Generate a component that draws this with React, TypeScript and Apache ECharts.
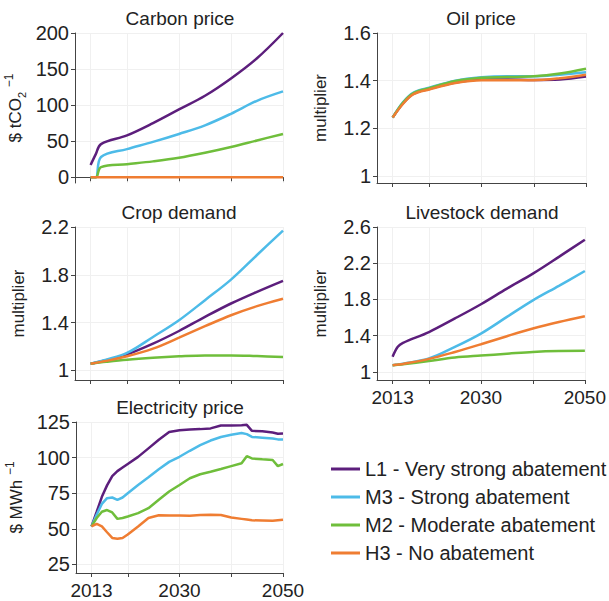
import React, { useEffect, useRef } from "react";
import * as echarts from "echarts";

const SCENARIOS = [
  "L1 - Very strong abatement",
  "M3 - Strong abatement",
  "M2 - Moderate abatement",
  "H3 - No abatement",
];
const COLORS = ["#5c1e7c", "#4dbbe8", "#6fbe3b", "#ef7d32"];

// Carbon price ($ tCO2^-1)
const carbonYears = [2013, 2014, 2015, 2020, 2025, 2030, 2035, 2040, 2045, 2050];
const carbonL1 = [17, 32, 46, 58, 75, 94, 113, 137, 165, 200];
const carbonM3 = [0, 0, 28, 39, 49, 60, 72, 88, 106, 119];
const carbonM2 = [0, 0, 14, 18, 22, 27, 34, 42, 51, 60];
const carbonH3 = [0, 0, 0, 0, 0, 0, 0, 0, 0, 0];

// Oil price (multiplier)
const oilYears = [2013, 2015, 2017, 2020, 2025, 2030, 2035, 2040, 2045, 2050];
const oilL1 = [1.245, 1.305, 1.345, 1.365, 1.392, 1.405, 1.405, 1.403, 1.405, 1.417];
const oilM3 = [1.245, 1.31, 1.35, 1.37, 1.4, 1.414, 1.418, 1.418, 1.425, 1.435];
const oilM2 = [1.245, 1.308, 1.348, 1.368, 1.398, 1.412, 1.415, 1.418, 1.43, 1.45];
const oilH3 = [1.245, 1.303, 1.343, 1.363, 1.39, 1.402, 1.402, 1.402, 1.41, 1.425];

// Crop demand (multiplier)
const cropYears = [2013, 2016, 2020, 2025, 2030, 2035, 2040, 2045, 2050];
const cropL1 = [1.056, 1.085, 1.134, 1.224, 1.33, 1.448, 1.56, 1.658, 1.75];
const cropM3 = [1.056, 1.09, 1.146, 1.28, 1.42, 1.588, 1.76, 1.966, 2.17];
const cropM2 = [1.056, 1.072, 1.09, 1.106, 1.118, 1.126, 1.126, 1.12, 1.112];
const cropH3 = [1.056, 1.08, 1.118, 1.182, 1.274, 1.37, 1.462, 1.538, 1.6];

// Livestock demand (multiplier)
const liveYears = [2013, 2014, 2015, 2020, 2025, 2030, 2035, 2040, 2045, 2050];
const liveL1 = [1.166, 1.276, 1.32, 1.44, 1.59, 1.747, 1.92, 2.085, 2.27, 2.46];
const liveM3 = [1.074, 1.08, 1.09, 1.147, 1.276, 1.423, 1.607, 1.79, 1.95, 2.114];
const liveM2 = [1.074, 1.078, 1.083, 1.12, 1.158, 1.18, 1.2, 1.22, 1.23, 1.232];
const liveH3 = [1.074, 1.08, 1.087, 1.143, 1.22, 1.305, 1.394, 1.478, 1.55, 1.614];

// Electricity price ($ MWh^-1)
const elecYears = [2013, 2014, 2015, 2016, 2017, 2018, 2019, 2020, 2022, 2024, 2026, 2028, 2030, 2032, 2034, 2036, 2038, 2040, 2042, 2043, 2044, 2046, 2048, 2049, 2050];
const elecL1 = [51.7, 62, 72.5, 80.5, 87, 90.5, 93, 95.5, 100.5, 106.5, 112.5, 118, 119.2, 119.8, 120, 120.5, 122.5, 122.5, 122.8, 123, 118.8, 118.5, 117.6, 116.8, 117];
const elecM3 = [51.7, 60, 67.5, 71.5, 72, 70.4, 72, 75, 80.8, 86.2, 91.8, 97, 100.6, 104.8, 108.7, 112, 114.5, 116, 117.3, 116.5, 114.5, 114, 113.4, 112.8, 112.8];
const elecM2 = [51.7, 57.6, 62, 63.2, 61.5, 57, 57.6, 58.7, 61, 64.5, 70.4, 76.2, 80.8, 85.5, 88.3, 90.1, 92, 94, 96, 101, 99.4, 98.8, 98.3, 94, 95.5];
const elecH3 = [51.7, 53.5, 51.7, 47.6, 43.6, 43, 43.6, 46, 51.7, 57.6, 59.5, 59.4, 59.4, 59.2, 59.7, 59.9, 59.7, 58, 57, 56.5, 56, 55.8, 55.6, 56, 56.4];

const xTickValues = [2013, 2020, 2030, 2040, 2050];
const xLabelValues = [2013, 2030, 2050];

const carbonTicks = [0, 50, 100, 150, 200];
const oilTicks = [1, 1.2, 1.4, 1.6];
const cropTicks = [1, 1.4, 1.8, 2.2];
const liveTicks = [1, 1.4, 1.8, 2.2, 2.6];
const elecTicks = [25, 50, 75, 100, 125];

const FONT = "'Liberation Sans', Arial, sans-serif";
const TXT = "#222";
const AXIS = "#444";

const panels = [
  { title: "Carbon price", years: carbonYears, data: [carbonL1, carbonM3, carbonM2, carbonH3], ticks: carbonTicks, min: -8, max: 200, grid: { left: 75, top: 33, width: 208, height: 150 }, showX: false, name: "{a|$ tCO}{s|2}{a| }{p|−1}", smooth: 0.35 },
  { title: "Oil price", years: oilYears, data: [oilL1, oilM3, oilM2, oilH3], ticks: oilTicks, min: 0.97, max: 1.6, grid: { left: 377, top: 33, width: 209, height: 150 }, showX: false, name: "multiplier", smooth: 0.35 },
  { title: "Crop demand", years: cropYears, data: [cropL1, cropM3, cropM2, cropH3], ticks: cropTicks, min: 0.92, max: 2.2, grid: { left: 75, top: 227, width: 208, height: 153 }, showX: false, name: "multiplier", smooth: 0.35 },
  { title: "Livestock demand", years: liveYears, data: [liveL1, liveM3, liveM2, liveH3], ticks: liveTicks, min: 0.91, max: 2.6, grid: { left: 377, top: 227, width: 209, height: 153 }, showX: true, name: "multiplier", smooth: 0.35 },
  { title: "Electricity price", years: elecYears, data: [elecL1, elecM3, elecM2, elecH3], ticks: elecTicks, min: 19, max: 125, grid: { left: 76, top: 422, width: 207, height: 151 }, showX: true, name: "{a|$ MWh }{p|−1}", smooth: false },
];

const titlePos = [
  { x: 180, y: 18 },
  { x: 481, y: 18 },
  { x: 179, y: 212 },
  { x: 482, y: 212 },
  { x: 180, y: 407 },
];

export default function App() {
  const ref = useRef<HTMLDivElement>(null);
  useEffect(() => {
    if (!ref.current) return;
    const chart = echarts.init(ref.current, undefined, { renderer: "svg" });
    const grids = panels.map((p) => ({ ...p.grid, containLabel: false }));
    const xAxes = panels.map((p, i) => ({
      type: "value",
      gridIndex: i,
      min: 2010,
      max: 2050,
      axisLine: { show: true, lineStyle: { color: AXIS, width: 1 } },
      axisTick: { show: true, customValues: xTickValues, length: 4, lineStyle: { color: AXIS } },
      axisLabel: {
        show: p.showX,
        customValues: xLabelValues,
        formatter: (v: number) => String(v),
        fontSize: 19,
        color: TXT,
        fontFamily: FONT,
        margin: 8,
      },
      splitLine: { show: true, lineStyle: { color: "#f0f0f0", width: 1 } },
    }));
    const yAxes = panels.map((p, i) => ({
      type: "value",
      gridIndex: i,
      min: p.min,
      max: p.max,
      name: p.name,
      nameLocation: "middle",
      nameRotate: 90,
      nameGap: 48,
      nameTextStyle: {
        fontSize: 17,
        color: TXT,
        fontFamily: FONT,
        rich: {
          a: { fontSize: 17, color: TXT, fontFamily: FONT, lineHeight: 24 },
          s: { fontSize: 11, color: TXT, fontFamily: FONT, lineHeight: 24, verticalAlign: "bottom" },
          p: { fontSize: 12, color: TXT, fontFamily: FONT, lineHeight: 24, verticalAlign: "top" },
        },
      },
      axisLine: { show: true, lineStyle: { color: AXIS, width: 1 } },
      axisTick: { show: true, customValues: p.ticks, length: 4, lineStyle: { color: AXIS } },
      axisLabel: { show: true, customValues: p.ticks, fontSize: 20, color: TXT, fontFamily: FONT, margin: 6 },
      splitLine: { show: true, lineStyle: { color: "#f0f0f0", width: 1 } },
    }));
    const series: any[] = [];
    panels.forEach((p, i) => {
      p.data.forEach((vals, k) => {
        series.push({
          type: "line",
          name: SCENARIOS[k],
          xAxisIndex: i,
          yAxisIndex: i,
          data: p.years.map((y, j) => [y, vals[j]]),
          symbol: "none",
          smooth: p.smooth,
          lineStyle: { color: COLORS[k], width: 2.5 },
          itemStyle: { color: COLORS[k] },
        });
      });
    });
    const graphic = panels.map((p, i) => ({
      type: "text",
      x: titlePos[i].x,
      y: titlePos[i].y,
      style: { text: p.title, fontSize: 19, fill: TXT, fontFamily: FONT, textAlign: "center", textVerticalAlign: "middle" },
    }));
    chart.setOption({
      animation: false,
      backgroundColor: "#ffffff",
      grid: grids,
      xAxis: xAxes,
      yAxis: yAxes,
      series,
      graphic,
      legend: {
        data: SCENARIOS,
        orient: "vertical",
        left: 326,
        top: 454,
        itemWidth: 29,
        itemHeight: 3,
        itemGap: 8,
        icon: "rect",
        textStyle: { fontSize: 20, color: TXT, fontFamily: FONT, padding: [0, 0, 0, 0] },
      },
    });
    return () => chart.dispose();
  }, []);
  return <div ref={ref} style={{ position: "absolute", left: 0, top: 0, width: 609, height: 601 }} />;
}
